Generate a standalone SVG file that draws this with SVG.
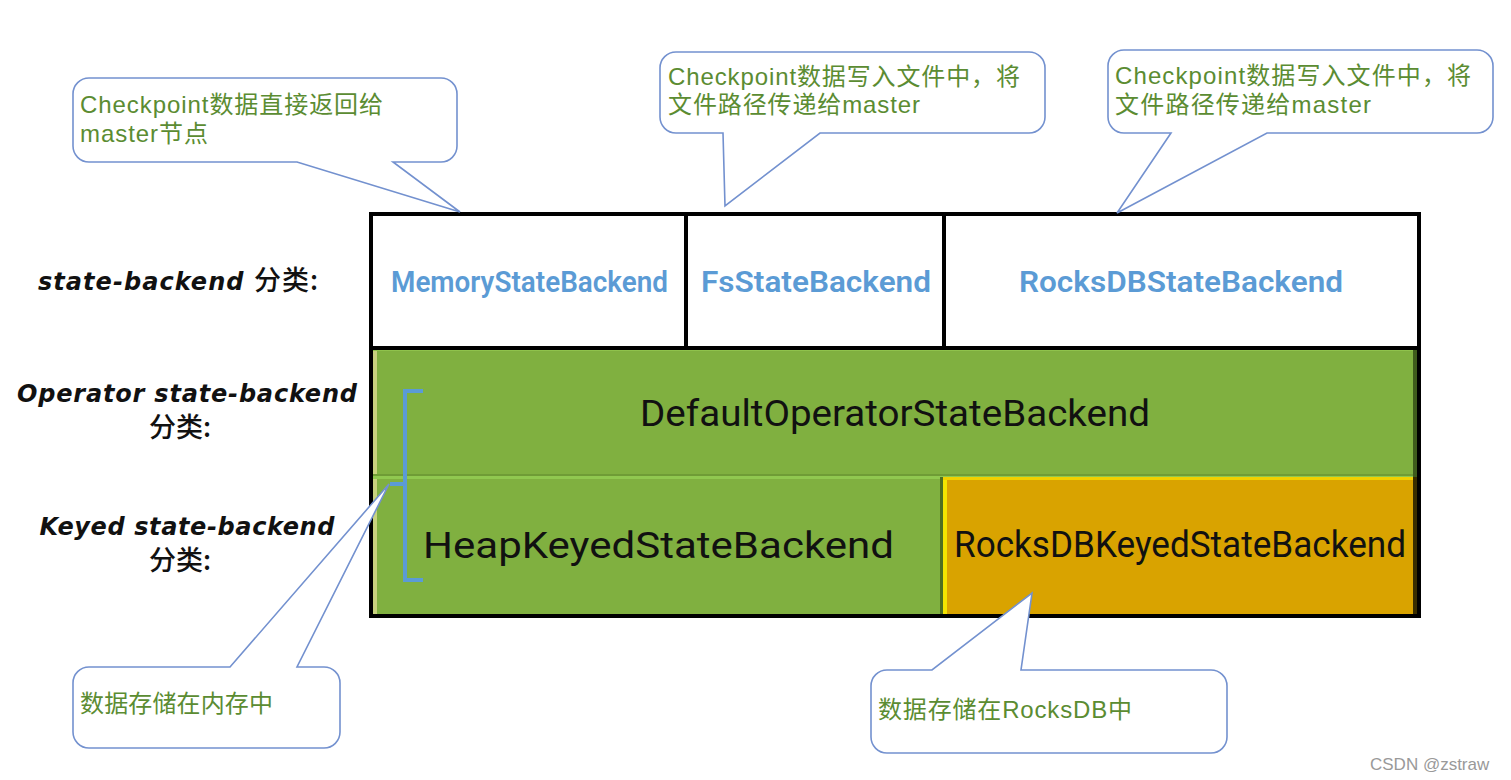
<svg xmlns="http://www.w3.org/2000/svg" width="1511" height="780" viewBox="0 0 1511 780">
<style>
.lbl{font-family:"DejaVu Sans","Noto Sans CJK SC",sans-serif;font-style:italic;font-weight:bold;font-size:24px;fill:#111}
.cjk{font-family:"Noto Sans CJK SC",sans-serif;font-style:normal;font-weight:500;font-size:27px}
.hdr{font-family:Roboto,"Liberation Sans",sans-serif;font-weight:600;font-size:29px;fill:#5b9bd5}
.cell{font-family:Roboto,"Liberation Sans",sans-serif;font-size:37px;fill:#111}
.note{font-family:"Liberation Sans","Noto Sans CJK SC",sans-serif;font-size:24px;fill:#5b8c32}
.callout{fill:#fff;stroke:#7391cf;stroke-width:1.6}
.frame{fill:none;stroke:#000;stroke-width:4}
.brace{fill:none;stroke:#5b9bd5;stroke-width:4}
</style>
<rect width="1511" height="780" fill="#fff"/>

<g id="row-labels">
<text class="lbl" x="38" y="290" textLength="280">state-backend <tspan class="cjk">分类:</tspan></text>
<text class="lbl" x="187" y="402" text-anchor="middle" textLength="340">Operator state-backend</text>
<text class="lbl cjk" x="180" y="437" text-anchor="middle">分类:</text>
<text class="lbl" x="187" y="535" text-anchor="middle" textLength="295">Keyed state-backend</text>
<text class="lbl cjk" x="180" y="570" text-anchor="middle">分类:</text>
</g>

<g id="table">
<rect x="371" y="214" width="1048" height="134" fill="#fff"/>
<rect x="373" y="349" width="1044" height="266" fill="#80b040"/>
<rect x="373" y="349" width="4" height="266" fill="#c8d27e"/>
<rect x="373" y="349" width="1044" height="2" fill="#8fc24c"/>
<rect x="373" y="474" width="1044" height="2" fill="#6f9c36"/>
<rect x="373" y="476" width="1044" height="3" fill="#90c850"/>
<rect x="1413" y="349" width="4" height="266" fill="#3f5c1c"/>
<g id="orange-cell">
<rect x="943" y="477" width="474" height="138" fill="#d9a300"/>
<rect x="940" y="477" width="3" height="138" fill="#4d6e22"/>
<rect x="943" y="477" width="4" height="138" fill="#f3e400"/>
<rect x="943" y="477" width="474" height="3" fill="#f0d000"/>
<rect x="1413" y="477" width="4" height="138" fill="#3a2e00"/>
</g>
<rect class="frame" x="371" y="214" width="1048" height="402"/>
<line class="frame" x1="371" y1="348" x2="1419" y2="348"/>
<line class="frame" x1="686" y1="214" x2="686" y2="348"/>
<line class="frame" x1="944" y1="214" x2="944" y2="348"/>
</g>

<g id="memory">
<text class="hdr" x="391" y="292" textLength="277" lengthAdjust="spacingAndGlyphs">MemoryStateBackend</text>
</g>
<g id="fs">
<text class="hdr" x="701" y="292" textLength="230" lengthAdjust="spacingAndGlyphs">FsStateBackend</text>
</g>
<g id="rocksdb">
<text class="hdr" x="1019" y="292" textLength="324" lengthAdjust="spacingAndGlyphs">RocksDBStateBackend</text>
</g>
<g id="default-operator">
<text class="cell" x="640" y="426" textLength="510" lengthAdjust="spacingAndGlyphs">DefaultOperatorStateBackend</text>
</g>
<g id="heap-keyed">
<text class="cell" x="423" y="558" font-size="38" textLength="471" lengthAdjust="spacingAndGlyphs">HeapKeyedStateBackend</text>
</g>
<g id="rocksdb-keyed">
<text class="cell" x="954" y="557" font-size="32" textLength="452" lengthAdjust="spacingAndGlyphs">RocksDBKeyedStateBackend</text>
</g>

<g id="brace">
<path class="brace" d="M423,391 H405 V580 H423 M405,484 H390"/>
</g>

<g id="connectors">
<path id="callout-memory" class="callout" d="M89,78 H441 A16,16 0 0 1 457,94 V146 A16,16 0 0 1 441,162 H393 L460,212 L297,162 H89 A16,16 0 0 1 73,146 V94 A16,16 0 0 1 89,78 Z"/>
<path id="callout-fs" class="callout" d="M676,52 H1029 A16,16 0 0 1 1045,68 V117 A16,16 0 0 1 1029,133 H820 L725,206 L723,133 H676 A16,16 0 0 1 660,117 V68 A16,16 0 0 1 676,52 Z"/>
<path id="callout-rocks" class="callout" d="M1124,50 H1477 A16,16 0 0 1 1493,66 V117 A16,16 0 0 1 1477,133 H1267 L1117,213 L1171,133 H1124 A16,16 0 0 1 1108,117 V66 A16,16 0 0 1 1124,50 Z"/>
<path id="callout-heap" class="callout" d="M89,667 H230 L389,484 L297,667 H324 A16,16 0 0 1 340,683 V732 A16,16 0 0 1 324,748 H89 A16,16 0 0 1 73,732 V683 A16,16 0 0 1 89,667 Z"/>
<path id="callout-rocksdb-keyed" class="callout" d="M887,670 H932 L1032,593 L1021,670 H1211 A16,16 0 0 1 1227,686 V737 A16,16 0 0 1 1211,753 H887 A16,16 0 0 1 871,737 V686 A16,16 0 0 1 887,670 Z"/>
</g>

<g id="note-memory">
<text class="note" x="80" y="113" textLength="303">Checkpoint数据直接返回给</text>
<text class="note" x="80" y="142" textLength="128">master节点</text>
</g>
<g id="note-fs">
<text class="note" x="668" y="85" textLength="352">Checkpoint数据写入文件中，将</text>
<text class="note" x="668" y="113" textLength="252">文件路径传递给master</text>
</g>
<g id="note-rocks">
<text class="note" x="1115" y="84" textLength="356">Checkpoint数据写入文件中，将</text>
<text class="note" x="1115" y="113" textLength="256">文件路径传递给master</text>
</g>
<g id="note-heap">
<text class="note" x="80" y="712" textLength="193">数据存储在内存中</text>
</g>
<g id="note-rocksdb-keyed">
<text class="note" x="878" y="718" textLength="254">数据存储在RocksDB中</text>
</g>

<text x="1370" y="770" font-family="Liberation Sans,sans-serif" font-size="17" fill="#999">CSDN @zstraw</text>
</svg>
